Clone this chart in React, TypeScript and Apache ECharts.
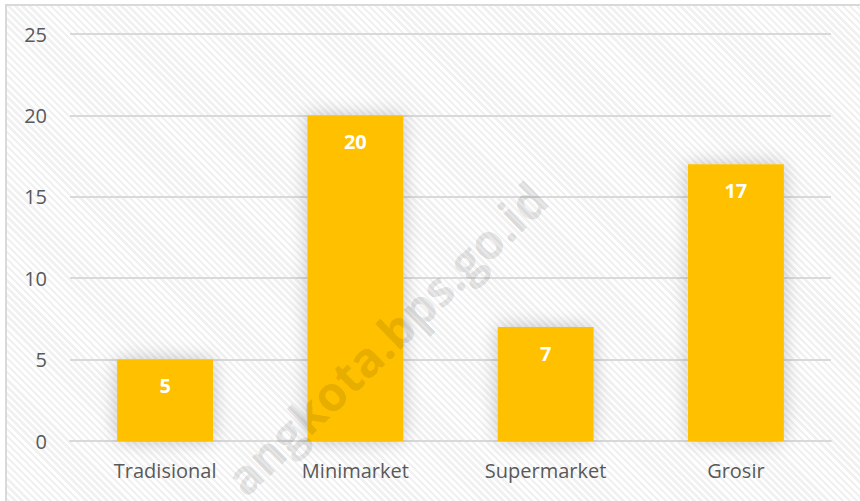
import React, { useEffect, useRef } from "react";
import * as echarts from "echarts";

const categories = ["Tradisional", "Minimarket", "Supermarket", "Grosir"];
const values = [5, 20, 7, 17];
const yTicks = [0, 5, 10, 15, 20, 25];
const watermark = "angkota.bps.go.id";

export default function App() {
  const ref = useRef<HTMLDivElement>(null);
  useEffect(() => {
    document.body.style.margin = "0";
    const chart = echarts.init(ref.current!, null, { renderer: "svg" });
    chart.setOption({
      animation: false,
      backgroundColor: "transparent",
      textStyle: { fontFamily: "Open Sans" },
      grid: { left: 70, right: 29, top: 34, bottom: 60, containLabel: false },
      xAxis: {
        type: "category",
        data: categories,
        axisLine: { show: true, lineStyle: { color: "#d9d9d9", width: 2 } },
        axisTick: { show: false },
        axisLabel: { color: "#595959", fontSize: 20, margin: 19, fontFamily: "Open Sans" },
      },
      yAxis: {
        type: "value",
        min: yTicks[0],
        max: yTicks[yTicks.length - 1],
        interval: 5,
        axisLine: { show: false },
        axisTick: { show: false },
        splitLine: { lineStyle: { color: "#d9d9d9", width: 2 } },
        axisLabel: { color: "#595959", fontSize: 20, margin: 23, fontFamily: "Open Sans" },
      },
      series: [
        {
          type: "bar",
          data: values,
          barWidth: 96,
          itemStyle: {
            color: "#FFC000",
            shadowBlur: 18,
            shadowColor: "rgba(0,0,0,0.22)",
            shadowOffsetX: 0,
            shadowOffsetY: 0,
          },
          label: {
            show: true,
            position: "insideTop",
            distance: 16,
            color: "#ffffff",
            fontWeight: "bold",
            fontSize: 20,
            fontFamily: "Open Sans",
          },
        },
      ],
      graphic: [
        {
          type: "text",
          x: 386,
          y: 338,
          rotation: (44 * Math.PI) / 180,
          z: 100,
          silent: true,
          style: {
            text: watermark,
            fontSize: 48,
            fontWeight: "bold",
            fontFamily: "Open Sans",
            fill: "rgba(0,0,0,0.11)",
            align: "center",
            verticalAlign: "middle",
          },
        },
      ],
    });
    return () => chart.dispose();
  }, []);

  return (
    <div style={{ position: "relative", width: 860, height: 501, overflow: "hidden", background: "#fff" }}>
      <div
        style={{
          position: "absolute",
          left: 5,
          top: 4,
          width: 880,
          height: 520,
          borderLeft: "2px solid #d9d9d9",
          borderTop: "2px solid #d9d9d9",
          backgroundColor: "#fff",
          backgroundImage:
            "repeating-linear-gradient(45deg, #ffffff 0px, #ffffff 2.5px, #f1f1f1 2.5px, #f1f1f1 5px)",
        }}
      />
      <div ref={ref} style={{ position: "absolute", left: 0, top: 0, width: 860, height: 501 }} />
    </div>
  );
}
